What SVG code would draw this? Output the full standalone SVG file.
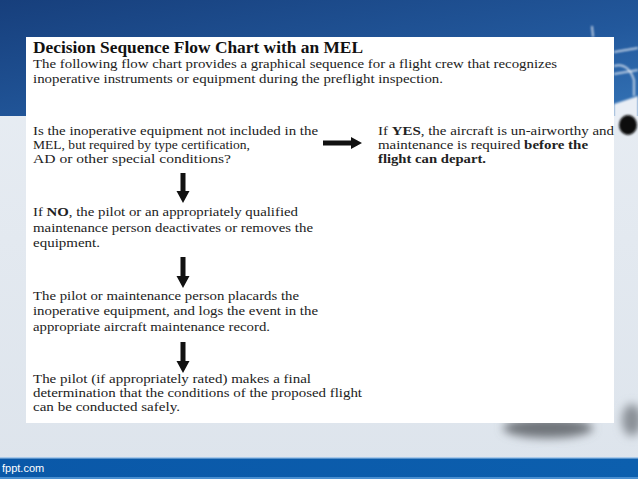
<svg xmlns="http://www.w3.org/2000/svg" width="638" height="479" viewBox="0 0 638 479">
<defs>
<linearGradient id="sky" x1="0" y1="0" x2="1" y2="1">
<stop offset="0" stop-color="#173f7c"/>
<stop offset="0.6" stop-color="#22589c"/>
<stop offset="1" stop-color="#3473b6"/>
</linearGradient>
<linearGradient id="ground" x1="0" y1="0" x2="0" y2="1">
<stop offset="0" stop-color="#e9eef4"/>
<stop offset="1" stop-color="#dde4ec"/>
</linearGradient>
<linearGradient id="bar" x1="0" y1="0" x2="1" y2="0">
<stop offset="0" stop-color="#0a58a8"/>
<stop offset="1" stop-color="#0c5fae"/>
</linearGradient>
<filter id="blur" x="-50%" y="-50%" width="200%" height="200%"><feGaussianBlur stdDeviation="5"/></filter>
<filter id="blur2" x="-50%" y="-50%" width="200%" height="200%"><feGaussianBlur stdDeviation="1"/></filter>
</defs>
<style>
.t{font-family:"Liberation Serif","Times New Roman",serif;font-size:13.5px;fill:#222}
.b{font-weight:bold}
.h{font-family:"Liberation Serif","Times New Roman",serif;font-size:17px;font-weight:bold;fill:#111}
.arr{fill:#111}
.foot{font-family:"Liberation Sans",Arial,sans-serif;font-size:11px;fill:#ffffff}
</style>
<!-- background -->
<rect x="0" y="0" width="638" height="479" fill="url(#ground)"/>
<rect x="0" y="0" width="638" height="116" fill="url(#sky)"/>
<!-- plane hints on the right -->
<g filter="url(#blur2)" stroke="#e8eef6" fill="none" stroke-width="1.5">
<line x1="592" y1="26" x2="593" y2="37"/>
<path d="M614 52 L638 48"/>
<path d="M614 74 L638 70"/>
<path d="M614 66 Q628 62 634 80 L634 96"/>
</g>
<path d="M614 104 L638 96 L638 124 L614 124 Z" fill="#e9eef5" filter="url(#blur2)"/>
<ellipse cx="628" cy="125" rx="9" ry="10" fill="#0a0a0a" filter="url(#blur2)"/>
<ellipse cx="548" cy="428" rx="45" ry="10" fill="#6f747a" filter="url(#blur)"/>
<ellipse cx="632" cy="420" rx="10" ry="16" fill="#8a9097" filter="url(#blur)"/>
<!-- panel -->
<rect x="26" y="37" width="588" height="386" fill="#ffffff"/>
<!-- bottom bar -->
<rect x="0" y="458" width="638" height="21" fill="url(#bar)"/>
<rect x="0" y="457" width="638" height="1.5" fill="#a8c9ea"/>
<rect x="0" y="477" width="638" height="2" fill="#4a8fd0"/>
<text class="foot" x="2" y="472">fppt.com</text>
<!-- header -->
<g id="header">
<text class="h" x="33" y="53" textLength="330" lengthAdjust="spacingAndGlyphs">Decision Sequence Flow Chart with an MEL</text>
<text class="t" x="33" y="68" textLength="524" lengthAdjust="spacingAndGlyphs">The following flow chart provides a graphical sequence for a flight crew that recognizes</text>
<text class="t" x="33" y="83" textLength="410" lengthAdjust="spacingAndGlyphs">inoperative instruments or equipment during the preflight inspection.</text>
</g>
<g id="q1">
<text class="t" x="33" y="135" textLength="285" lengthAdjust="spacingAndGlyphs">Is the inoperative equipment not included in the</text>
<text class="t" x="33" y="149" textLength="217" lengthAdjust="spacingAndGlyphs">MEL, but required by type certification,</text>
<text class="t" x="33" y="163" textLength="198" lengthAdjust="spacingAndGlyphs">AD or other special conditions?</text>
</g>
<g id="yes">
<text class="t" x="378" y="135" textLength="236" lengthAdjust="spacingAndGlyphs">If <tspan class="b">YES</tspan>, the aircraft is un-airworthy and</text>
<text class="t" x="378" y="149" textLength="210" lengthAdjust="spacingAndGlyphs">maintenance is required <tspan class="b">before the</tspan></text>
<text class="t b" x="378" y="163" textLength="108" lengthAdjust="spacingAndGlyphs">flight can depart.</text>
</g>
<g id="no">
<text class="t" x="33" y="216" textLength="265" lengthAdjust="spacingAndGlyphs">If <tspan class="b">NO</tspan>, the pilot or an appropriately qualified</text>
<text class="t" x="33" y="232" textLength="280" lengthAdjust="spacingAndGlyphs">maintenance person deactivates or removes the</text>
<text class="t" x="33" y="247" textLength="67" lengthAdjust="spacingAndGlyphs">equipment.</text>
</g>
<g id="placard">
<text class="t" x="33" y="300" textLength="266" lengthAdjust="spacingAndGlyphs">The pilot or maintenance person placards the</text>
<text class="t" x="33" y="315" textLength="285" lengthAdjust="spacingAndGlyphs">inoperative equipment, and logs the event in the</text>
<text class="t" x="33" y="331" textLength="237" lengthAdjust="spacingAndGlyphs">appropriate aircraft maintenance record.</text>
</g>
<g id="final">
<text class="t" x="33" y="383" textLength="278" lengthAdjust="spacingAndGlyphs">The pilot (if appropriately rated) makes a final</text>
<text class="t" x="33" y="397" textLength="329" lengthAdjust="spacingAndGlyphs">determination that the conditions of the proposed flight</text>
<text class="t" x="33" y="411" textLength="147" lengthAdjust="spacingAndGlyphs">can be conducted safely.</text>
</g>
<g id="connectors">
<polygon class="arr" points="323,140.5 351,140.5 351,137 362,143 351,149 351,145.5 323,145.5"/>
<polygon class="arr" points="180.5,173 185.5,173 185.5,191 189.5,191 183,203 176.5,191 180.5,191"/>
<polygon class="arr" points="180.5,257 185.5,257 185.5,276 189.5,276 183,288 176.5,276 180.5,276"/>
<polygon class="arr" points="180.5,342 185.5,342 185.5,361 189.5,361 183,373 176.5,361 180.5,361"/>
</g>
</svg>
